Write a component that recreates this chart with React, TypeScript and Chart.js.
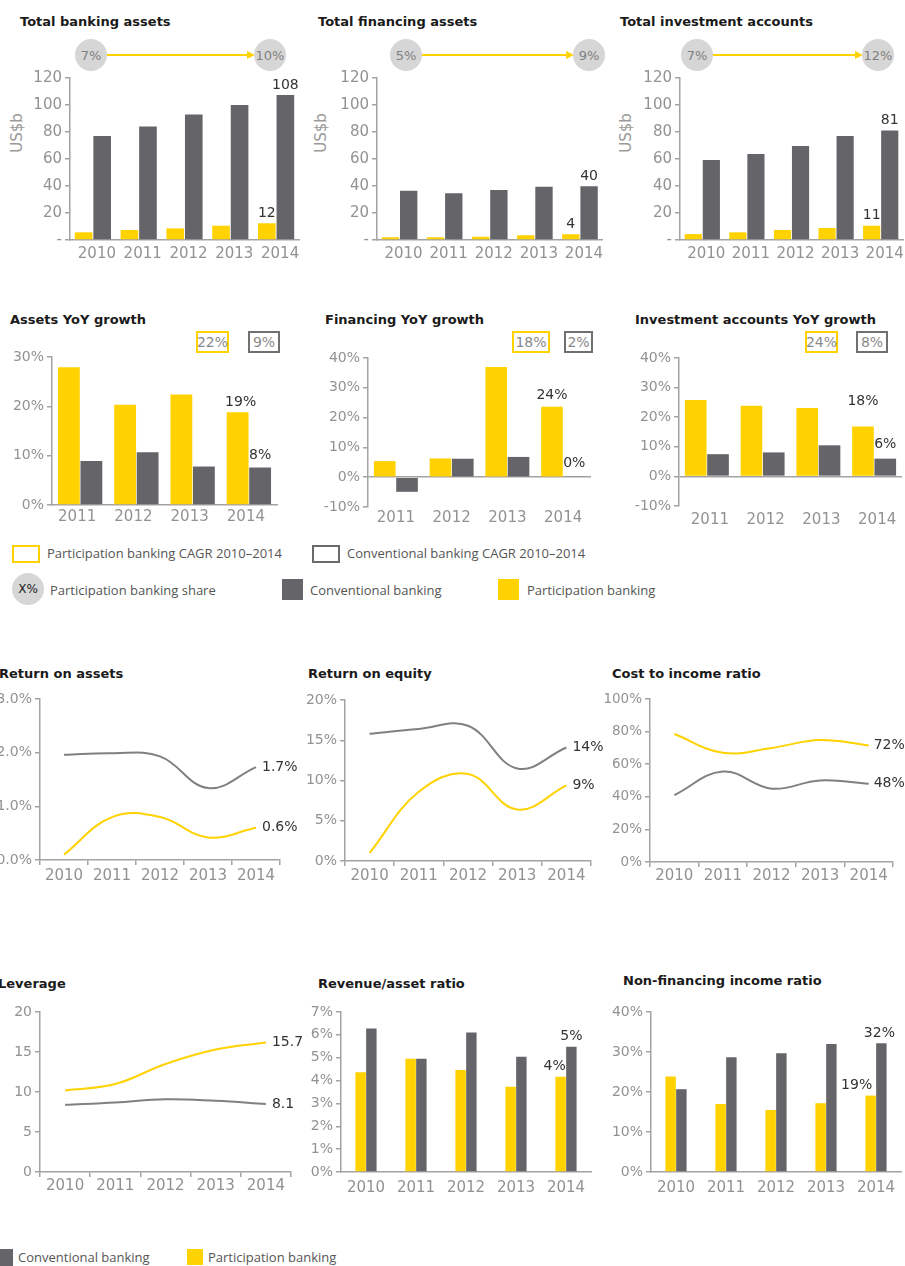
import React, { useEffect, useRef } from 'react';
import { Chart, registerables } from 'chart.js';

Chart.register(...registerables);

// ---------------- DATA ----------------
const YEARS = ['2010', '2011', '2012', '2013', '2014'];
const GROWTH_YEARS = ['2011', '2012', '2013', '2014'];

// Row 1 (US$b)
const bankingAssetsPart = [5.7, 7.4, 8.6, 10.6, 12.4];
const bankingAssetsConv = [77, 84, 93, 100, 107.5];
const bankingAssetsEnd = ['12', '108'];
const financingPart = [2.0, 2.0, 2.4, 3.5, 4.2];
const financingConv = [36.5, 34.6, 37, 39.5, 39.8];
const financingEnd = ['4', '40'];
const investPart = [4.4, 5.7, 7.4, 8.9, 10.6];
const investConv = [59.3, 63.7, 69.6, 77, 81.2];
const investEnd = ['11', '81'];
const shareStart = ['7%', '5%', '7%'];
const shareEnd = ['10%', '9%', '12%'];

// Row 2 (YoY growth, %)
const assetsGrowthPart = [27.9, 20.3, 22.4, 18.8];
const assetsGrowthConv = [8.9, 10.7, 7.8, 7.6];
const assetsGrowthEnd = ['19%', '8%'];
const financingGrowthPart = [5.4, 6.3, 37, 23.6];
const financingGrowthConv = [-4.9, 6.2, 6.8, 0.2];
const financingGrowthEnd = ['24%', '0%'];
const investGrowthPart = [25.8, 23.9, 23.1, 16.9];
const investGrowthConv = [7.5, 8.1, 10.5, 6.0];
const investGrowthEnd = ['18%', '6%'];
const cagrPart = ['22%', '18%', '24%'];
const cagrConv = ['9%', '2%', '8%'];

// Row 3 (lines)
const roaPart = [0.1, 0.8, 0.8, 0.42, 0.6];
const roaConv = [1.96, 1.99, 1.93, 1.34, 1.73];
const roaEnd = ['0.6%', '1.7%'];
const roePart = [1.0, 8.6, 10.8, 6.4, 9.4];
const roeConv = [15.8, 16.4, 16.8, 11.5, 14.1];
const roeEnd = ['9%', '14%'];
const cirPart = [78.5, 67, 70, 74.8, 71.5];
const cirConv = [41, 55.5, 45, 50, 48];
const cirEnd = ['72%', '48%'];

// Row 4
const leveragePart = [10.2, 11.0, 13.5, 15.3, 16.2];
const leverageConv = [8.4, 8.7, 9.1, 8.9, 8.5];
const leverageEnd = ['15.7', '8.1'];
const revAssetPart = [4.36, 4.96, 4.46, 3.73, 4.17];
const revAssetConv = [6.28, 4.96, 6.1, 5.04, 5.48];
const revAssetEnd = ['4%', '5%'];
const nonFinPart = [23.9, 17.0, 15.5, 17.2, 19.1];
const nonFinConv = [20.7, 28.7, 29.7, 32.0, 32.2];
const nonFinEnd = ['19%', '32%'];

// ---------------- STYLE ----------------
const YELLOW = '#FFD200';
const GRAY = '#646469';
const LINE_GRAY = '#808080';
const AXIS = '#a3a3a3';
const TICK = '#929292';
const FONT = '"DejaVu Sans", "Noto Sans", sans-serif';
const LFONT = '"Open Sans", "Noto Sans", sans-serif';

type Box = { left: number; top: number; width: number; height: number };
type Plot = { l: number; t: number; r: number; b: number };
type LabelItem = { ds: number; i: number; text: string; dx?: number; gap?: number };

function labelPlugin(items: LabelItem[], mode: 'bar' | 'line', size: number) {
  return {
    id: 'endLabels',
    afterDatasetsDraw(chart: any) {
      const ctx = chart.ctx;
      ctx.save();
      ctx.font = `${size}px ${FONT}`;
      ctx.fillStyle = '#333333';
      for (const it of items) {
        const el = chart.getDatasetMeta(it.ds).data[it.i];
        if (!el) continue;
        if (mode === 'bar') {
          ctx.textAlign = 'center';
          ctx.textBaseline = 'bottom';
          ctx.fillText(it.text, el.x + (it.dx || 0), el.y - (it.gap ?? 3));
        } else {
          ctx.textAlign = 'left';
          ctx.textBaseline = 'middle';
          ctx.fillText(it.text, el.x + (it.gap ?? 6), el.y);
        }
      }
      ctx.restore();
    },
  };
}

type Cfg = {
  type: 'bar' | 'line';
  box: Box;
  plot: Plot;
  labels: string[];
  part: number[];
  conv: number[];
  y: { min: number; max: number; step: number; fmt: (v: number) => string; font: number; zero?: boolean };
  x: { font: number; pad: number; off?: number; ticks?: boolean; border?: boolean };
  bar?: { cp: number; bp: number };
  items: LabelItem[];
  labelSize: number;
};

function makeConfig(c: Cfg): any {
  const { box, plot } = c;
  const yWidth = plot.l - box.left;
  const padTop = plot.t - box.top;
  const padRight = box.left + box.width - plot.r;
  const xHeight = box.top + box.height - plot.b;
  const datasets =
    c.type === 'bar'
      ? [
          { data: c.part, backgroundColor: YELLOW, borderWidth: 0, categoryPercentage: c.bar!.cp, barPercentage: c.bar!.bp },
          { data: c.conv, backgroundColor: GRAY, borderWidth: 0, categoryPercentage: c.bar!.cp, barPercentage: c.bar!.bp },
        ]
      : [
          { data: c.part, borderColor: YELLOW, borderWidth: 2, pointRadius: 0, tension: 0.4, fill: false },
          { data: c.conv, borderColor: LINE_GRAY, borderWidth: 2, pointRadius: 0, tension: 0.4, fill: false },
        ];
  return {
    type: c.type,
    data: { labels: c.labels, datasets },
    options: {
      responsive: false,
      animation: false,
      devicePixelRatio: 1,
      layout: { padding: { left: 0, top: padTop, right: padRight, bottom: 0 } },
      plugins: { legend: { display: false }, tooltip: { enabled: false }, title: { display: false } },
      scales: {
        x: {
          offset: true,
          ticks: {
            color: TICK,
            font: { family: FONT, size: c.x.font },
            padding: c.x.pad,
            labelOffset: c.x.off || 0,
            maxRotation: 0,
            autoSkip: false,
          },
          grid: c.x.ticks
            ? { display: true, drawOnChartArea: false, offset: true, drawTicks: true, tickLength: 5, color: AXIS, lineWidth: 1.5 }
            : { display: false, drawTicks: false, tickLength: 0 },
          border: { display: c.x.border !== false, color: AXIS, width: 1.5 },
          afterFit: (s: any) => {
            s.height = xHeight;
          },
        },
        y: {
          min: c.y.min,
          max: c.y.max,
          ticks: {
            stepSize: c.y.step,
            callback: (v: any) => c.y.fmt(Number(v)),
            color: TICK,
            font: { family: FONT, size: c.y.font },
            padding: 3,
          },
          grid: {
            display: true,
            drawOnChartArea: !!c.y.zero,
            color: c.y.zero ? (ctx: any) => (ctx.tick && ctx.tick.value === 0 ? AXIS : 'rgba(0,0,0,0)') : AXIS,
            tickColor: AXIS,
            drawTicks: true,
            tickLength: 5,
            lineWidth: 1.5,
          },
          border: { display: true, color: AXIS, width: 1.5 },
          afterFit: (s: any) => {
            s.width = yWidth;
          },
        },
      },
    },
    plugins: [labelPlugin(c.items, c.type, c.labelSize)],
  };
}

function ChartCanvas({ cfg }: { cfg: Cfg }) {
  const ref = useRef<HTMLCanvasElement>(null);
  useEffect(() => {
    const chart = new Chart(ref.current as HTMLCanvasElement, makeConfig(cfg));
    return () => chart.destroy();
  }, []);
  const b = cfg.box;
  return (
    <canvas
      ref={ref}
      width={b.width}
      height={b.height}
      style={{ position: 'absolute', left: b.left, top: b.top, width: b.width, height: b.height }}
    />
  );
}

const pct = (v: number) => `${v}%`;
const pct1 = (v: number) => `${v.toFixed(1)}%`;
const dash = (v: number) => (v === 0 ? '-' : String(v));
const plain = (v: number) => String(v);

const last5 = 4;
const last4 = 3;

const charts: Cfg[] = [
  // Row 1
  {
    type: 'bar', box: { left: 0, top: 60, width: 305, height: 210 }, plot: { l: 70, t: 78, r: 299, b: 240 },
    labels: YEARS, part: bankingAssetsPart, conv: bankingAssetsConv,
    y: { min: 0, max: 120, step: 20, fmt: dash, font: 15 }, x: { font: 15, pad: 5, off: 4 },
    bar: { cp: 0.81, bp: 0.95 }, labelSize: 14,
    items: [{ ds: 0, i: last5, text: bankingAssetsEnd[0] }, { ds: 1, i: last5, text: bankingAssetsEnd[1] }],
  },
  {
    type: 'bar', box: { left: 305, top: 60, width: 300, height: 210 }, plot: { l: 377, t: 78, r: 602.5, b: 240 },
    labels: YEARS, part: financingPart, conv: financingConv,
    y: { min: 0, max: 120, step: 20, fmt: dash, font: 15 }, x: { font: 15, pad: 5, off: 4 },
    bar: { cp: 0.81, bp: 0.95 }, labelSize: 14,
    items: [{ ds: 0, i: last5, text: financingEnd[0] }, { ds: 1, i: last5, text: financingEnd[1] }],
  },
  {
    type: 'bar', box: { left: 605, top: 60, width: 300, height: 210 }, plot: { l: 680, t: 78, r: 903, b: 240 },
    labels: YEARS, part: investPart, conv: investConv,
    y: { min: 0, max: 120, step: 20, fmt: dash, font: 15 }, x: { font: 15, pad: 5, off: 4 },
    bar: { cp: 0.81, bp: 0.95 }, labelSize: 14,
    items: [{ ds: 0, i: last5, text: investEnd[0] }, { ds: 1, i: last5, text: investEnd[1] }],
  },
  // Row 2
  {
    type: 'bar', box: { left: 0, top: 340, width: 300, height: 200 }, plot: { l: 52, t: 357, r: 277, b: 505 },
    labels: GROWTH_YEARS, part: assetsGrowthPart, conv: assetsGrowthConv,
    y: { min: 0, max: 30, step: 10, fmt: pct, font: 14 }, x: { font: 15, pad: 3, off: -3 },
    bar: { cp: 0.8, bp: 0.97 }, labelSize: 14,
    items: [{ ds: 0, i: last4, text: assetsGrowthEnd[0], dx: 3, gap: 3 }, { ds: 1, i: last4, text: assetsGrowthEnd[1], gap: 5 }],
  },
  {
    type: 'bar', box: { left: 300, top: 340, width: 300, height: 200 }, plot: { l: 368, t: 358, r: 591, b: 507 },
    labels: GROWTH_YEARS, part: financingGrowthPart, conv: financingGrowthConv,
    y: { min: -10, max: 40, step: 10, fmt: pct, font: 14, zero: true }, x: { font: 15, pad: 2, border: false },
    bar: { cp: 0.8, bp: 0.97 }, labelSize: 14,
    items: [{ ds: 0, i: last4, text: financingGrowthEnd[0], gap: 5 }, { ds: 1, i: last4, text: financingGrowthEnd[1], gap: 6 }],
  },
  {
    type: 'bar', box: { left: 600, top: 340, width: 305, height: 200 }, plot: { l: 679, t: 358, r: 902, b: 506 },
    labels: GROWTH_YEARS, part: investGrowthPart, conv: investGrowthConv,
    y: { min: -10, max: 40, step: 10, fmt: pct, font: 14, zero: true }, x: { font: 15, pad: 5, off: 3, border: false },
    bar: { cp: 0.8, bp: 0.97 }, labelSize: 14,
    items: [{ ds: 0, i: last4, text: investGrowthEnd[0], gap: 18 }, { ds: 1, i: last4, text: investGrowthEnd[1], gap: 7 }],
  },
  // Row 3
  {
    type: 'line', box: { left: 0, top: 680, width: 300, height: 215 }, plot: { l: 40, t: 699, r: 280, b: 860 },
    labels: YEARS, part: roaPart, conv: roaConv,
    y: { min: 0, max: 3, step: 1, fmt: pct1, font: 14 }, x: { font: 15, pad: 2, ticks: true },
    labelSize: 14,
    items: [{ ds: 0, i: last5, text: roaEnd[0] }, { ds: 1, i: last5, text: roaEnd[1] }],
  },
  {
    type: 'line', box: { left: 300, top: 680, width: 305, height: 215 }, plot: { l: 345, t: 700, r: 591, b: 861 },
    labels: YEARS, part: roePart, conv: roeConv,
    y: { min: 0, max: 20, step: 5, fmt: pct, font: 14 }, x: { font: 15, pad: 1, ticks: true },
    labelSize: 14,
    items: [{ ds: 0, i: last5, text: roeEnd[0] }, { ds: 1, i: last5, text: roeEnd[1] }],
  },
  {
    type: 'line', box: { left: 598, top: 680, width: 307, height: 215 }, plot: { l: 650, t: 699, r: 893, b: 862 },
    labels: YEARS, part: cirPart, conv: cirConv,
    y: { min: 0, max: 100, step: 20, fmt: pct, font: 13.5 }, x: { font: 15, pad: 0, ticks: true },
    labelSize: 14,
    items: [{ ds: 0, i: last5, text: cirEnd[0], gap: 5 }, { ds: 1, i: last5, text: cirEnd[1], gap: 5 }],
  },
  // Row 4
  {
    type: 'line', box: { left: 0, top: 990, width: 310, height: 210 }, plot: { l: 40, t: 1012, r: 291, b: 1172 },
    labels: YEARS, part: leveragePart, conv: leverageConv,
    y: { min: 0, max: 20, step: 5, fmt: plain, font: 14 }, x: { font: 15, pad: 0, ticks: true },
    labelSize: 14,
    items: [{ ds: 0, i: last5, text: leverageEnd[0] }, { ds: 1, i: last5, text: leverageEnd[1] }],
  },
  {
    type: 'bar', box: { left: 310, top: 990, width: 290, height: 210 }, plot: { l: 341, t: 1012, r: 591, b: 1172 },
    labels: YEARS, part: revAssetPart, conv: revAssetConv,
    y: { min: 0, max: 7, step: 1, fmt: pct, font: 14 }, x: { font: 15, pad: 7 },
    bar: { cp: 0.43, bp: 0.97 }, labelSize: 14,
    items: [{ ds: 0, i: last5, text: revAssetEnd[0], dx: -6 }, { ds: 1, i: last5, text: revAssetEnd[1] }],
  },
  {
    type: 'bar', box: { left: 600, top: 990, width: 305, height: 210 }, plot: { l: 651, t: 1012, r: 901, b: 1172 },
    labels: YEARS, part: nonFinPart, conv: nonFinConv,
    y: { min: 0, max: 40, step: 10, fmt: pct, font: 14 }, x: { font: 15, pad: 7 },
    bar: { cp: 0.43, bp: 0.97 }, labelSize: 14,
    items: [{ ds: 0, i: last5, text: nonFinEnd[0], dx: -14 }, { ds: 1, i: last5, text: nonFinEnd[1], dx: -2 }],
  },
];

// ---------------- HTML decorations ----------------
const abs = (s: React.CSSProperties): React.CSSProperties => ({ position: 'absolute', whiteSpace: 'nowrap', ...s });

function Title({ x, y, text }: { x: number; y: number; text: string }) {
  return <div style={abs({ left: x, top: y - 9, font: `bold 13px ${FONT}`, color: '#1a1a1a', lineHeight: '18px' })}>{text}</div>;
}

function Circle({ cx, cy, r, text, color = '#808080', size = 13 }: any) {
  return (
    <div
      style={abs({
        left: cx - r, top: cy - r, width: 2 * r, height: 2 * r, borderRadius: '50%', background: '#d6d6d6',
        display: 'flex', alignItems: 'center', justifyContent: 'center', font: `${size}px ${FONT}`, color,
      })}
    >
      {text}
    </div>
  );
}

function Arrow({ x1, x2, y }: { x1: number; x2: number; y: number }) {
  return (
    <>
      <div style={abs({ left: x1, top: y - 0.75, width: x2 - x1 - 7, height: 1.5, background: YELLOW })} />
      <div
        style={abs({
          left: x2 - 8, top: y - 4.5, width: 0, height: 0,
          borderTop: '4.5px solid transparent', borderBottom: '4.5px solid transparent', borderLeft: `8px solid ${YELLOW}`,
        })}
      />
    </>
  );
}

function OutlineBox({ x, y, w, h, color, text }: any) {
  return (
    <div
      style={abs({
        left: x, top: y, width: w, height: h, boxSizing: 'border-box', border: `2px solid ${color}`,
        display: 'flex', alignItems: 'center', justifyContent: 'center', font: `14px ${FONT}`, color: '#8a8a8a',
      })}
    >
      {text}
    </div>
  );
}

function YTitle({ cx, cy, text }: { cx: number; cy: number; text: string }) {
  return (
    <div
      style={abs({
        left: cx - 30, top: cy - 10, width: 60, height: 20, lineHeight: '20px', textAlign: 'center',
        transform: 'rotate(-90deg)', font: `15px ${FONT}`, color: '#9a9a9a',
      })}
    >
      {text}
    </div>
  );
}

function LegendText({ x, y, text }: { x: number; y: number; text: string }) {
  return <div style={abs({ left: x, top: y - 10, lineHeight: '20px', font: `13px ${LFONT}`, color: '#555' })}>{text}</div>;
}

function Square({ x, y, s, color }: { x: number; y: number; s: number; color: string }) {
  return <div style={abs({ left: x, top: y, width: s, height: s, background: color })} />;
}

export default function App() {
  const circleCenters = [
    [91, 270],
    [406, 589],
    [697, 878],
  ];
  const boxPos = [
    [196, 248],
    [512, 564],
    [805, 856],
  ];
  return (
    <div style={{ position: 'absolute', left: 0, top: 0, width: 905, height: 1266, overflow: 'hidden', background: '#fff' }}>
      <Title x={20} y={22} text="Total banking assets" />
      <Title x={318} y={22} text="Total financing assets" />
      <Title x={620} y={22} text="Total investment accounts" />
      {circleCenters.map((c, k) => (
        <React.Fragment key={k}>
          <Arrow x1={c[0] + 16} x2={c[1] - 15} y={55} />
          <Circle cx={c[0]} cy={55} r={16} text={shareStart[k]} />
          <Circle cx={c[1]} cy={55} r={16} text={shareEnd[k]} />
        </React.Fragment>
      ))}
      <YTitle cx={18} cy={133} text="US$b" />
      <YTitle cx={322} cy={133} text="US$b" />
      <YTitle cx={627} cy={133} text="US$b" />

      <Title x={10} y={320} text="Assets YoY growth" />
      <Title x={325} y={320} text="Financing YoY growth" />
      <Title x={635} y={320} text="Investment accounts YoY growth" />
      {boxPos.map((p, k) => (
        <React.Fragment key={k}>
          <OutlineBox x={p[0]} y={331} w={k === 1 ? 38 : 33} h={22} color={YELLOW} text={cagrPart[k]} />
          <OutlineBox x={p[1]} y={331} w={k === 1 ? 29 : 32} h={22} color="#707070" text={cagrConv[k]} />
        </React.Fragment>
      ))}

      {/* legend rows */}
      <div style={abs({ left: 12, top: 545, width: 28, height: 18, boxSizing: 'border-box', border: `2px solid ${YELLOW}` })} />
      <LegendText x={47} y={554} text="Participation banking CAGR 2010–2014" />
      <div style={abs({ left: 312, top: 545, width: 28, height: 18, boxSizing: 'border-box', border: '2px solid #6a6a6a' })} />
      <LegendText x={347} y={554} text="Conventional banking CAGR 2010–2014" />
      <Circle cx={28} cy={589} r={16} text="X%" color="#222" size={12} />
      <LegendText x={50} y={591} text="Participation banking share" />
      <Square x={282} y={579} s={21} color={GRAY} />
      <LegendText x={310} y={591} text="Conventional banking" />
      <Square x={498} y={579} s={21} color={YELLOW} />
      <LegendText x={527} y={591} text="Participation banking" />

      <Title x={-1} y={674} text="Return on assets" />
      <Title x={308} y={674} text="Return on equity" />
      <Title x={612} y={674} text="Cost to income ratio" />

      <Title x={-2} y={984} text="Leverage" />
      <Title x={318} y={984} text="Revenue/asset ratio" />
      <Title x={623} y={981} text="Non-financing income ratio" />

      {charts.map((c, k) => (
        <ChartCanvas key={k} cfg={c} />
      ))}

      <Square x={-4} y={1249} s={17} color={GRAY} />
      <LegendText x={18} y={1258} text="Conventional banking" />
      <Square x={187} y={1249} s={16} color={YELLOW} />
      <LegendText x={208} y={1258} text="Participation banking" />
    </div>
  );
}
